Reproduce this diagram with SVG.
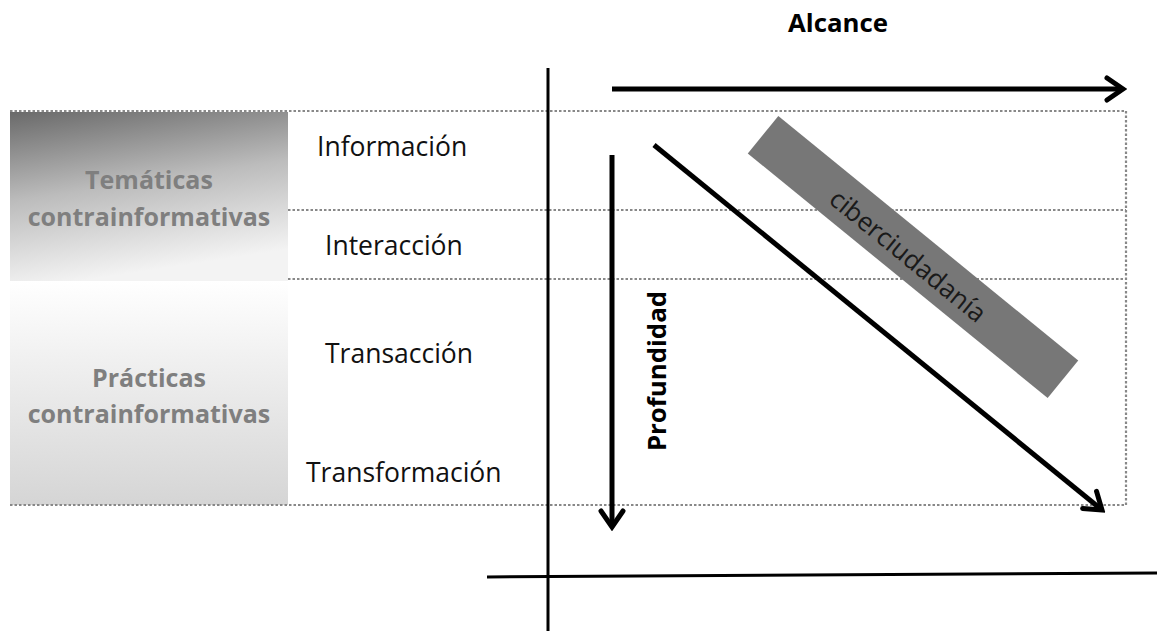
<svg xmlns="http://www.w3.org/2000/svg" width="1157" height="631" viewBox="0 0 1157 631">
  <style>
    .lbl { font-family: "Open Sans", "Liberation Sans", sans-serif; font-size: 26.5px; fill: #111; }
    .side { font-family: "Open Sans", "Liberation Sans", sans-serif; font-size: 25px; font-weight: bold; fill: #7f7f7f; text-anchor: middle; }
    .bold { font-family: "Open Sans", "Liberation Sans", sans-serif; font-size: 25.8px; font-weight: bold; fill: #000; }
    .dot { stroke: #888888; stroke-width: 2.2; stroke-dasharray: 2.5 2; fill: none; }
    .axis { stroke: #000; stroke-width: 3; fill: none; }
    .arr { stroke: #000; stroke-width: 5; fill: none; marker-end: url(#chev); }
  </style>
  <defs>
    <linearGradient id="gTop" x1="0" y1="0" x2="0.25" y2="1">
      <stop offset="0" stop-color="#6a6a6a"/>
      <stop offset="0.5" stop-color="#bcbcbc"/>
      <stop offset="1" stop-color="#f3f3f3"/>
    </linearGradient>
    <linearGradient id="gBot" x1="0" y1="0" x2="0" y2="1">
      <stop offset="0" stop-color="#ffffff"/>
      <stop offset="1" stop-color="#d5d5d5"/>
    </linearGradient>
    <marker id="chev" markerUnits="userSpaceOnUse" viewBox="-24 -16 28 32" markerWidth="28" markerHeight="32" refX="0" refY="0" orient="auto">
      <path d="M -16 -11 L 0 0 L -16 11" stroke="#000" stroke-width="5" fill="none" stroke-linecap="round" stroke-linejoin="miter"/>
    </marker>
  </defs>

  <g id="box-tematicas">
    <rect x="10" y="112" width="278" height="169" fill="url(#gTop)"/>
    <text class="side" x="149" y="189">Temáticas</text>
    <text class="side" x="149" y="226">contrainformativas</text>
  </g>
  <g id="box-practicas">
    <rect x="10" y="281" width="278" height="224" fill="url(#gBot)"/>
    <text class="side" x="149" y="387">Prácticas</text>
    <text class="side" x="149" y="423">contrainformativas</text>
  </g>

  <g id="grid">
    <line class="dot" x1="10" y1="111" x2="1126" y2="111"/>
    <line class="dot" x1="288" y1="210" x2="1126" y2="210"/>
    <line class="dot" x1="288" y1="279" x2="1126" y2="279"/>
    <line class="dot" x1="10" y1="505" x2="1126" y2="505"/>
    <line class="dot" x1="1126" y1="111" x2="1126" y2="505"/>
  </g>

  <g id="level-labels">
    <text class="lbl" x="317" y="156">Información</text>
    <text class="lbl" x="325" y="255">Interacción</text>
    <text class="lbl" x="325" y="363">Transacción</text>
    <text class="lbl" x="306" y="482">Transformación</text>
  </g>

  <g id="ciberciudadania">
    <rect x="719.5" y="232.8" width="387" height="48.4" fill="#777777" transform="rotate(39.2 913 257)"/>
    <text x="908" y="265" transform="rotate(39.2 908 256)" text-anchor="middle" style="font-family: 'Open Sans', 'Liberation Sans', sans-serif; font-size: 26px; fill: #1a1a1a;">ciberciudadanía</text>
  </g>

  <g id="titles">
    <text class="bold" x="788" y="32">Alcance</text>
    <text class="bold" x="0" y="0" text-anchor="middle" transform="translate(666 371) rotate(-90)">Profundidad</text>
  </g>

  <g id="connectors">
    <line class="axis" x1="548" y1="68" x2="548" y2="631"/>
    <line class="axis" x1="487" y1="577" x2="1157" y2="573"/>
    <line class="arr" x1="612" y1="89" x2="1123" y2="89"/>
    <line class="arr" x1="612" y1="155" x2="612" y2="527"/>
    <line class="arr" x1="654" y1="145" x2="1102" y2="510"/>
  </g>
</svg>
